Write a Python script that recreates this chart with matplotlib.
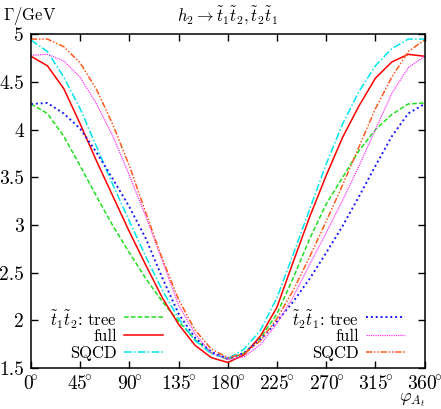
import numpy as np
import matplotlib
matplotlib.use('Agg')
import matplotlib.pyplot as plt
from matplotlib.lines import Line2D

plt.rcParams['mathtext.fontset'] = 'cm'
plt.rcParams['font.family'] = ['serif']
plt.rcParams['font.serif'] = ['cmr10', 'DejaVu Serif']
plt.rcParams['axes.formatter.use_mathtext'] = True

# phase of A_t in degrees
phi = [0, 15, 30, 45, 60, 75, 90, 105, 120, 135, 150, 165, 180,
       195, 210, 225, 240, 255, 270, 285, 300, 315, 330, 345, 360]

# Gamma / GeV
t1t2_tree = [4.27, 4.17, 3.93, 3.62, 3.30, 2.99, 2.71, 2.44, 2.20, 1.99, 1.80, 1.66, 1.59,
             1.66, 1.82, 2.07, 2.45, 2.86, 3.22, 3.50, 3.78, 4.00, 4.16, 4.27, 4.28]
t1t2_full = [4.77, 4.67, 4.43, 4.06, 3.67, 3.30, 2.93, 2.58, 2.24, 1.96, 1.74, 1.61, 1.56,
             1.64, 1.84, 2.14, 2.62, 3.09, 3.52, 3.92, 4.25, 4.54, 4.71, 4.79, 4.77]
t1t2_sqcd = [4.94, 4.82, 4.55, 4.22, 3.82, 3.42, 3.04, 2.67, 2.32, 2.02, 1.79, 1.65, 1.60,
             1.70, 1.90, 2.24, 2.70, 3.17, 3.64, 4.06, 4.40, 4.67, 4.85, 4.95, 4.95]
t2t1_tree = [4.27, 4.28, 4.17, 4.01, 3.76, 3.48, 3.19, 2.86, 2.45, 2.07, 1.82, 1.67, 1.60,
             1.66, 1.80, 1.99, 2.20, 2.44, 2.71, 2.99, 3.30, 3.62, 3.93, 4.17, 4.27]
t2t1_full = [4.78, 4.79, 4.72, 4.55, 4.27, 3.93, 3.52, 3.09, 2.63, 2.16, 1.86, 1.66, 1.59,
             1.62, 1.75, 1.97, 2.25, 2.59, 2.92, 3.26, 3.62, 4.00, 4.38, 4.65, 4.77]
t2t1_sqcd = [4.95, 4.95, 4.87, 4.70, 4.42, 4.05, 3.62, 3.13, 2.65, 2.22, 1.90, 1.70, 1.61,
             1.65, 1.79, 2.02, 2.32, 2.67, 3.04, 3.42, 3.82, 4.22, 4.55, 4.82, 4.94]

xticks = [0, 45, 90, 135, 180, 225, 270, 315, 360]
yticks = [1.5, 2, 2.5, 3, 3.5, 4, 4.5, 5]
ylabels = ['1.5', '2', '2.5', '3', '3.5', '4', '4.5', '5']

labels1 = [r'$\tilde{t}_1\tilde{t}_2$: tree', 'full', 'SQCD']
labels2 = [r'$\tilde{t}_2\tilde{t}_1$: tree', 'full', 'SQCD']

fig = plt.figure(figsize=(4.41, 4.09), dpi=100)
ax = fig.add_axes([0.0703, 0.0998, 0.8925, 0.8163])

lw = 1.1
styles1 = [dict(color='#1ee01e', lw=lw, ls=(0, (3, 1.5))),
           dict(color='#ff0000', lw=lw, ls='-'),
           dict(color='#00e5ee', lw=lw, ls=(0, (5, 1.5, 1, 1.5)))]
styles2 = [dict(color='#1a1aff', lw=lw + 0.3, ls=(0, (1, 1.5))),
           dict(color='#ff30ff', lw=lw - 0.2, ls=(0, (1, 0.8))),
           dict(color='#ff5a1e', lw=lw, ls=(0, (4, 1.2, 1, 1.2, 1, 1.2)))]

for y, st in zip([t1t2_tree, t1t2_full, t1t2_sqcd], styles1):
    ax.plot(phi, y, **st)
for y, st in zip([t2t1_tree, t2t1_full, t2t1_sqcd], styles2):
    ax.plot(phi, y, **st)

ax.set_xlim(0, 360)
ax.set_ylim(1.5, 5)
ax.set_xticks(xticks)
ax.set_xticklabels([r'$%d\!^{\circ}$' % t for t in xticks])
ax.set_yticks(yticks)
ax.set_yticklabels(ylabels)
ax.tick_params(direction='in', top=True, right=True, length=5, width=1,
               labelsize=14, pad=5)
for s in ax.spines.values():
    s.set_linewidth(1.1)

fig.text(0.007, 0.962, r'$\Gamma/\mathrm{GeV}$', fontsize=12, ha='left', va='center')
fig.text(0.517, 0.962, r'$h_2 \to \tilde{t}_1\tilde{t}_2, \tilde{t}_2\tilde{t}_1$',
         fontsize=12, ha='center', va='center')
fig.text(0.935, 0.022, r'$\varphi_{A_t}$', fontsize=13, ha='center', va='center')

# gnuplot-style keys: label right-aligned, sample line after it
rows = [0.2245, 0.1810, 0.1394]
for (tx, x0, x1), labs, sts in [((0.2653, 0.2812, 0.3696), labels1, styles1),
                               ((0.8141, 0.8299, 0.9184), labels2, styles2)]:
    for yy, lab, st in zip(rows, labs, sts):
        fig.text(tx, yy, lab, fontsize=12, ha='right', va='center_baseline')
        fig.add_artist(Line2D([x0, x1], [yy, yy], transform=fig.transFigure, **st))

fig.savefig('out.png', dpi=100)
